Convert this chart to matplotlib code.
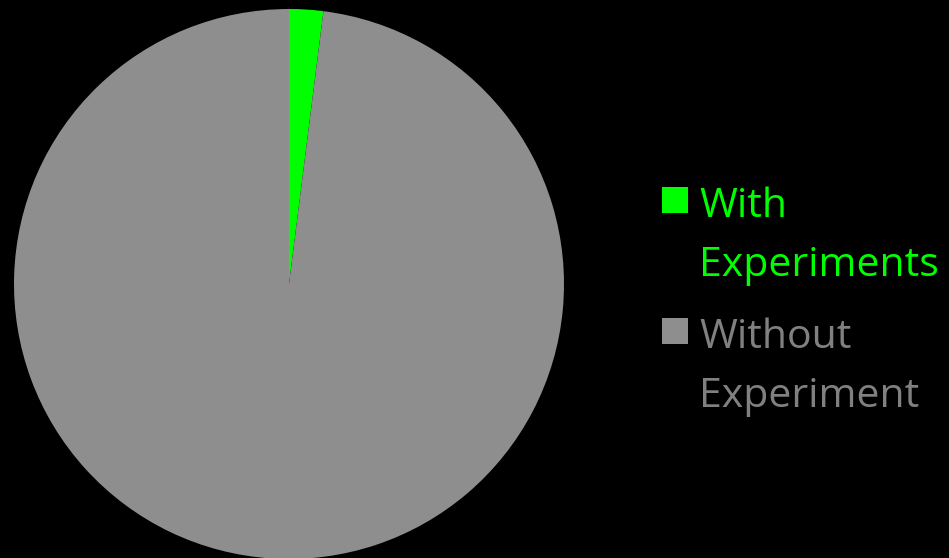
import matplotlib
matplotlib.use("Agg")
import matplotlib.pyplot as plt
from matplotlib.patches import Rectangle

labels = ["With\nExperiments", "Without\nExperiment"]
values = [2, 98]
slice_colors = ["#00ff00", "#8e8e8e"]
text_colors = ["#00ff00", "#808080"]

W, H = 949, 558
fig = plt.figure(figsize=(W / 100, H / 100), dpi=100, facecolor="black")

# pie axes: centre (289, 284) px, radius 275 px
ax = fig.add_axes([14 / W, (H - 559) / H, 550 / W, 550 / H])
ax.set_facecolor("black")
ax.pie(values, colors=slice_colors, startangle=90, counterclock=False,
       wedgeprops=dict(linewidth=0))
ax.set_xlim(-1, 1)
ax.set_ylim(-1, 1)
ax.set_aspect("equal")
ax.axis("off")

# legend drawn by hand so the square sits on the first line
sq_tops = [187, 318]
for lab, sc, tc, top in zip(labels, slice_colors, text_colors, sq_tops):
    fig.patches.append(Rectangle((662 / W, (H - top - 26) / H), 26 / W, 26 / H,
                                 transform=fig.transFigure, facecolor=sc,
                                 edgecolor="none"))
    for i, line in enumerate(lab.split("\n")):
        base = top + 30 + i * 59
        fig.text(699 / W, (H - base) / H, line, color=tc, fontsize=29.5,
                 family="Open Sans", va="baseline", ha="left")

fig.savefig("out.png", dpi=100, facecolor="black")
